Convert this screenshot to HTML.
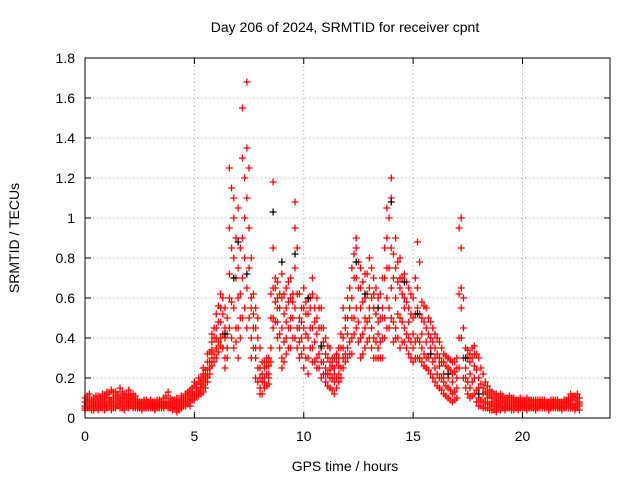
<!DOCTYPE html>
<html><head><meta charset="utf-8"><style>
body{margin:0;background:#fff;}
svg text{font-family:"Liberation Sans",sans-serif;font-size:14px;fill:#000;}
</style></head><body>
<svg id="chart" width="640" height="480" xmlns="http://www.w3.org/2000/svg">
<text x="345" y="32" text-anchor="middle">Day 206 of 2024, SRMTID for receiver cpnt</text>
<text x="345" y="471" text-anchor="middle">GPS time / hours</text>
<text transform="translate(19,238) rotate(-90)" text-anchor="middle">SRMTID / TECUs</text>
<g id="grid"></g><g id="marks"></g><g id="axes"></g>
</svg>
<script>
const xTicks=[0,5,10,15,20];
const yTicks=[0,0.2,0.4,0.6,0.8,1,1.2,1.4,1.6,1.8];
const yTickLabels=["0","0.2","0.4","0.6","0.8","1","1.2","1.4","1.6","1.8"];
const hours=[0,0.2,0.4,0.6,0.8,1,1.2,1.4,1.6,1.8,2,2.2,2.4,2.6,2.8,3,3.2,3.4,3.6,3.8,4,4.2,4.4,4.6,4.8,5,5.2,5.4,5.6,5.8,6,6.2,6.4,6.6,6.8,7,7.2,7.4,7.6,7.8,8,8.2,8.4,8.6,8.8,9,9.2,9.4,9.6,9.8,10,10.2,10.4,10.6,10.8,11,11.2,11.4,11.6,11.8,12,12.2,12.4,12.6,12.8,13,13.2,13.4,13.6,13.8,14,14.2,14.4,14.6,14.8,15,15.2,15.4,15.6,15.8,16,16.2,16.4,16.6,16.8,17,17.2,17.4,17.6,17.8,18,18.2,18.4,18.6,18.8,19,19.2,19.4,19.6,19.8,20,20.2,20.4,20.6,20.8,21,21.2,21.4,21.6,21.8,22,22.2,22.4,22.6];
const redValues=[
[0.05,0.08,0.06,0.10,0.04],[0.07,0.12,0.05,0.09,0.06],[0.06,0.10,0.04,0.08,0.07],[0.05,0.09,0.07,0.11,0.04],[0.08,0.06,0.12,0.05,0.09],
[0.07,0.13,0.05,0.10,0.06],[0.09,0.06,0.14,0.04,0.08],[0.06,0.11,0.08,0.13,0.05],[0.10,0.07,0.15,0.05,0.09],[0.08,0.12,0.06,0.10,0.04],
[0.07,0.11,0.05,0.14,0.09],[0.06,0.10,0.08,0.12,0.05],[0.07,0.09,0.05,0.06,0.08],[0.05,0.08,0.06,0.07,0.04],[0.06,0.09,0.05,0.07,0.08],
[0.07,0.05,0.08,0.06,0.09],[0.06,0.08,0.05,0.07,0.04],[0.05,0.09,0.07,0.06,0.08],[0.07,0.10,0.06,0.08,0.05],[0.06,0.13,0.08,0.05,0.07],
[0.05,0.08,0.06,0.09,0.04],[0.07,0.10,0.05,0.08,0.03],[0.06,0.09,0.08,0.05,0.11],[0.08,0.12,0.06,0.10,0.07],[0.10,0.14,0.08,0.12,0.06],
[0.12,0.16,0.10,0.18,0.09],[0.14,0.18,0.12,0.20,0.11],[0.16,0.22,0.13,0.19,0.25],[0.20,0.28,0.18,0.32,0.24],[0.30,0.38,0.26,0.42,0.34],
[0.35,0.45,0.30,0.52,0.40],[0.40,0.55,0.36,0.48,0.62],[0.30,0.45,0.25,0.55,0.40],[0.45,0.72,1.25,0.95,0.60],[0.35,1.10,0.80,0.55,1.00],
[0.45,0.75,1.05,0.30,0.60],[0.70,1.30,1.55,0.90,0.50],[1.35,1.10,0.65,0.45,1.68],[0.55,0.80,0.30,0.60,0.40],[0.45,0.30,0.55,0.20,0.35],
[0.15,0.25,0.35,0.12,0.20],[0.20,0.28,0.15,0.25,0.18],[0.22,0.30,0.17,0.26,0.20],[0.50,0.65,1.18,0.85,0.45],[0.55,0.68,0.40,0.60,0.48],
[0.30,0.45,0.60,0.25,0.72],[0.40,0.55,0.32,0.48,0.65],[0.45,0.60,0.35,0.70,0.50],[0.55,0.75,0.95,1.08,0.40],[0.30,0.50,0.62,0.45,0.38],
[0.35,0.55,0.25,0.65,0.45],[0.40,0.52,0.30,0.60,0.22],[0.45,0.62,0.35,0.70,0.28],[0.30,0.50,0.25,0.42,0.60],[0.35,0.45,0.20,0.55,0.28],
[0.25,0.32,0.18,0.40,0.22],[0.20,0.28,0.15,0.35,0.24],[0.18,0.25,0.12,0.30,0.22],[0.22,0.30,0.18,0.35,0.26],[0.30,0.40,0.25,0.55,0.35],
[0.35,0.50,0.30,0.60,0.42],[0.40,0.60,0.32,0.75,0.50],[0.55,0.85,0.45,0.70,0.90],[0.40,0.65,0.30,0.75,0.55],[0.45,0.60,0.35,0.72,0.50],
[0.50,0.65,0.40,0.80,0.55],[0.40,0.55,0.30,0.70,0.62],[0.35,0.48,0.30,0.60,0.42],[0.40,0.55,0.30,0.70,0.50],[0.60,0.90,1.05,0.75,0.45],
[0.50,1.20,0.85,0.65,1.10],[0.45,0.60,0.75,0.40,0.90],[0.50,0.65,0.80,0.35,0.70],[0.45,0.60,0.38,0.72,0.55],[0.40,0.55,0.32,0.65,0.48],
[0.35,0.50,0.28,0.60,0.42],[0.40,0.55,0.30,0.88,0.65],[0.35,0.50,0.28,0.58,0.42],[0.30,0.45,0.25,0.55,0.38],[0.32,0.40,0.22,0.48,0.35],
[0.25,0.35,0.18,0.42,0.30],[0.20,0.30,0.15,0.38,0.26],[0.18,0.28,0.12,0.32,0.22],[0.15,0.25,0.10,0.30,0.20],[0.12,0.22,0.08,0.28,0.18],
[0.15,0.25,0.10,0.30,0.20],[0.40,0.65,0.85,1.00,0.55],[0.20,0.30,0.15,0.35,0.25],[0.15,0.28,0.10,0.32,0.22],[0.20,0.32,0.12,0.36,0.26],
[0.10,0.20,0.06,0.30,0.15],[0.08,0.15,0.05,0.22,0.12],[0.07,0.12,0.05,0.16,0.10],[0.06,0.10,0.04,0.13,0.08],[0.05,0.09,0.03,0.12,0.07],
[0.06,0.10,0.04,0.08,0.12],[0.05,0.08,0.06,0.10,0.04],[0.07,0.09,0.05,0.11,0.06],[0.06,0.10,0.04,0.08,0.07],[0.05,0.08,0.06,0.09,0.04],
[0.06,0.09,0.05,0.07,0.08],[0.07,0.10,0.05,0.06,0.04],[0.06,0.08,0.05,0.09,0.07],[0.05,0.09,0.07,0.06,0.04],[0.06,0.08,0.05,0.07,0.09],
[0.07,0.09,0.05,0.06,0.08],[0.06,0.08,0.05,0.07,0.04],[0.05,0.09,0.07,0.06,0.08],[0.06,0.08,0.05,0.07,0.09],[0.07,0.05,0.08,0.06,0.04],
[0.06,0.09,0.05,0.08,0.07],[0.07,0.10,0.05,0.12,0.06],[0.05,0.09,0.06,0.11,0.04],[0.06,0.10,0.04,0.08,0.07]];
const midHours=[0.1,0.3,0.5,0.7,0.9,1.1,1.3,1.5,1.7,1.9,2.1,2.3,2.5,2.7,2.9,3.1,3.3,3.5,3.7,3.9,4.1,4.3,4.5,4.7,4.9,5.1,5.3,5.5,5.7,5.9,6.1,6.3,6.5,6.7,6.9,7.1,7.3,7.5,7.7,7.9,8.1,8.3,8.5,8.7,8.9,9.1,9.3,9.5,9.7,9.9,10.1,10.3,10.5,10.7,10.9,11.1,11.3,11.5,11.7,11.9,12.1,12.3,12.5,12.7,12.9,13.1,13.3,13.5,13.7,13.9,14.1,14.3,14.5,14.7,14.9,15.1,15.3,15.5,15.7,15.9,16.1,16.3,16.5,16.7,16.9,17.1,17.3,17.5,17.7,17.9,18.1,18.3,18.5,18.7,18.9,19.1,19.3,19.5,19.7,19.9,20.1,20.3,20.5,20.7,20.9,21.1,21.3,21.5,21.7,21.9,22.1,22.3,22.5];
const midValues=[
[0.07,0.11,0.05,0.09],[0.06,0.09,0.04,0.08],[0.08,0.11,0.06,0.05],[0.07,0.10,0.05,0.09],[0.06,0.11,0.08,0.04],
[0.08,0.12,0.06,0.10],[0.07,0.13,0.05,0.10],[0.09,0.12,0.06,0.07],[0.08,0.13,0.05,0.11],[0.06,0.10,0.08,0.12],
[0.08,0.12,0.06,0.10],[0.07,0.09,0.05,0.11],[0.06,0.08,0.07,0.05],[0.07,0.09,0.05,0.06],[0.05,0.08,0.07,0.06],
[0.06,0.08,0.05,0.07],[0.07,0.09,0.06,0.05],[0.06,0.08,0.05,0.07],[0.08,0.11,0.06,0.07],[0.07,0.10,0.05,0.08],
[0.06,0.09,0.05,0.07],[0.05,0.08,0.07,0.04],[0.07,0.10,0.06,0.09],[0.09,0.13,0.07,0.11],[0.11,0.15,0.09,0.13],
[0.13,0.17,0.11,0.15],[0.15,0.20,0.12,0.17],[0.18,0.24,0.15,0.21],[0.25,0.33,0.22,0.28],[0.32,0.40,0.28,0.45],
[0.38,0.48,0.33,0.56],[0.42,0.52,0.35,0.60],[0.35,0.42,0.30,0.50],[0.40,0.58,0.85,1.15],[0.45,0.70,0.90,0.38],
[0.50,0.62,0.40,0.85],[0.80,1.00,1.20,0.55],[0.75,1.25,0.50,0.95],[0.45,0.62,0.35,0.52],[0.25,0.40,0.50,0.18],
[0.18,0.28,0.12,0.22],[0.22,0.30,0.16,0.26],[0.35,0.50,0.62,0.28],[0.58,0.70,0.48,0.65],[0.42,0.55,0.62,0.35],
[0.38,0.52,0.28,0.62],[0.45,0.58,0.35,0.68],[0.50,0.62,0.40,0.58],[0.45,0.62,0.85,0.35],[0.40,0.55,0.32,0.48],
[0.42,0.58,0.30,0.52],[0.45,0.60,0.35,0.55],[0.38,0.55,0.28,0.48],[0.32,0.45,0.25,0.55],[0.28,0.38,0.22,0.45],
[0.22,0.30,0.16,0.36],[0.20,0.26,0.14,0.30],[0.20,0.28,0.15,0.32],[0.25,0.35,0.20,0.42],[0.32,0.45,0.28,0.50],
[0.38,0.55,0.32,0.65],[0.50,0.70,0.42,0.82],[0.48,0.65,0.38,0.78],[0.42,0.58,0.32,0.68],[0.48,0.62,0.38,0.72],
[0.45,0.60,0.35,0.75],[0.38,0.52,0.30,0.65],[0.38,0.50,0.30,0.62],[0.50,0.70,0.85,0.40],[0.55,0.75,1.00,0.45],
[0.48,0.70,0.82,0.38],[0.52,0.68,0.40,0.78],[0.48,0.62,0.38,0.70],[0.42,0.58,0.35,0.68],[0.38,0.52,0.30,0.62],
[0.38,0.52,0.30,0.70],[0.38,0.52,0.30,0.78],[0.32,0.48,0.26,0.56],[0.30,0.42,0.24,0.50],[0.28,0.38,0.20,0.45],
[0.22,0.32,0.16,0.40],[0.20,0.28,0.14,0.35],[0.16,0.26,0.11,0.31],[0.14,0.24,0.09,0.29],[0.13,0.23,0.09,0.28],
[0.25,0.40,0.62,0.95],[0.30,0.45,0.20,0.60],[0.18,0.30,0.12,0.34],[0.18,0.30,0.11,0.35],[0.14,0.24,0.08,0.32],
[0.09,0.17,0.06,0.25],[0.08,0.13,0.05,0.18],[0.07,0.11,0.04,0.14],[0.06,0.10,0.04,0.12],[0.05,0.09,0.07,0.11],
[0.06,0.09,0.05,0.11],[0.07,0.10,0.05,0.08],[0.06,0.09,0.04,0.10],[0.07,0.08,0.05,0.09],[0.06,0.10,0.05,0.08],
[0.07,0.09,0.05,0.06],[0.06,0.08,0.05,0.09],[0.07,0.09,0.06,0.05],[0.06,0.08,0.05,0.09],[0.07,0.09,0.06,0.05],
[0.06,0.08,0.05,0.07],[0.07,0.09,0.06,0.05],[0.06,0.09,0.05,0.08],[0.07,0.08,0.05,0.06],[0.06,0.09,0.05,0.08],
[0.07,0.10,0.05,0.08],[0.06,0.11,0.05,0.09],[0.07,0.12,0.05,0.10]];
const blackHours=[6.4,6.8,7.0,7.4,8.6,9.0,9.6,10.2,10.8,12.4,12.8,13.4,14.0,14.6,15.2,15.8,16.6,17.4,18.0];
const blackValues=[0.42,0.70,0.88,0.72,1.03,0.78,0.82,0.60,0.36,0.78,0.62,0.55,1.08,0.68,0.52,0.32,0.22,0.30,0.12];

const L=85,R=610,T=58,B=418,X0=0,X1=24,Y0=0,Y1=1.8;
const xs=v=>L+(v-X0)/(X1-X0)*(R-L);
const ys=v=>B-(v-Y0)/(Y1-Y0)*(B-T);
const NS="http://www.w3.org/2000/svg";
function mk(tag,attrs,parent){const e=document.createElementNS(NS,tag);for(const k in attrs)e.setAttribute(k,attrs[k]);parent.appendChild(e);return e;}
const grid=document.getElementById('grid'),axes=document.getElementById('axes'),marks=document.getElementById('marks');
yTicks.forEach((v,i)=>{
  const y=ys(v);
  if(i>0&&i<yTicks.length-1){const g=mk('line',{x1:L,x2:R,y1:y,y2:y,stroke:'#a0a0a0','stroke-dasharray':'1,3'},grid);
  
  }
  mk('line',{x1:L,x2:L+6,y1:y,y2:y,stroke:'#000'},axes);
  mk('line',{x1:R,x2:R-6,y1:y,y2:y,stroke:'#000'},axes);
  const t=mk('text',{x:L-10,y:y+5,'text-anchor':'end','font-size':'15'},axes);t.textContent=yTickLabels[i];
  
  
});
xTicks.forEach(v=>{
  const x=xs(v);
  if(v>0){const g=mk('line',{x1:x,x2:x,y1:T,y2:B,stroke:'#a0a0a0','stroke-dasharray':'1,3'},grid);
  
  }
  mk('line',{x1:x,x2:x,y1:B,y2:B-6,stroke:'#000'},axes);
  mk('line',{x1:x,x2:x,y1:T,y2:T+6,stroke:'#000'},axes);
  const t=mk('text',{x:x,y:B+23,'text-anchor':'middle','font-size':'15'},axes);t.textContent=String(v);
  
  
});
const frame=mk('rect',{x:L,y:T,width:R-L,height:B-T,fill:'none',stroke:'#000'},axes);


function plus(x,y,col){
  return mk('path',{d:`M${x-3.5},${y}h7M${x},${y-3.5}v7`,stroke:col,'stroke-width':1.3,fill:'none'},marks);
}
hours.forEach((h,i)=>{(redValues[i]||[]).forEach(v=>{
  const p=plus(xs(h),ys(v),'#ff0000');
  
  
});});
midHours.forEach((h,i)=>{(midValues[i]||[]).forEach(v=>{
  const p=plus(xs(h),ys(v),'#ff0000');
  
  
});});
blackHours.forEach((h,i)=>{
  const p=plus(xs(h),ys(blackValues[i]),'#000000');
  
  
});
</script>
</body></html>
